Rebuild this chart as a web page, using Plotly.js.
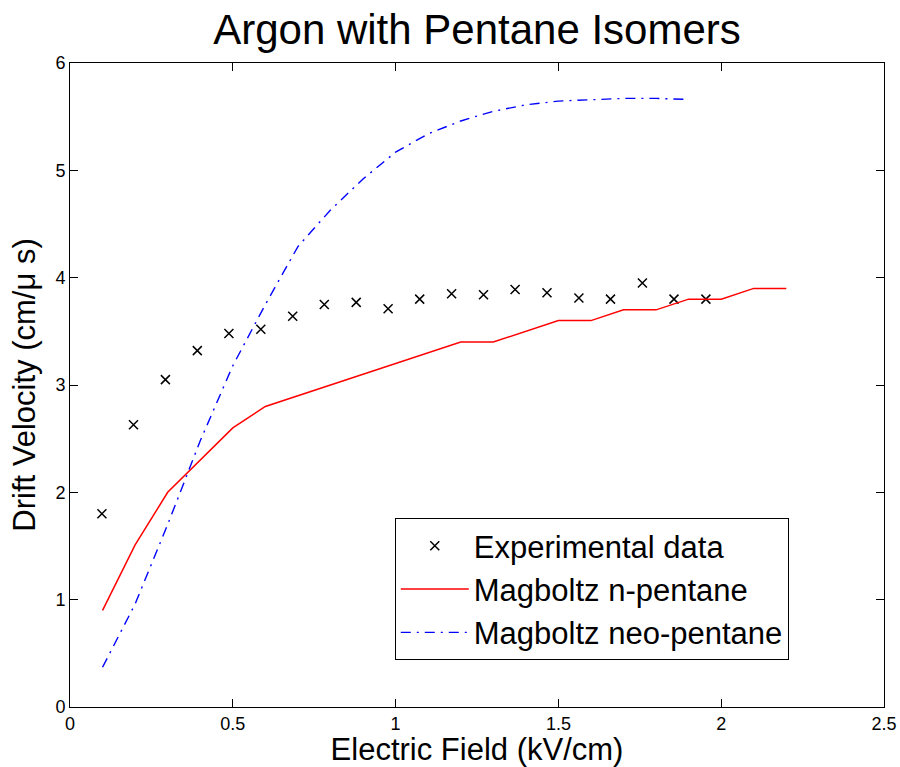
<!DOCTYPE html>
<html>
<head>
<meta charset="utf-8">
<script src="https://cdn.plot.ly/plotly-3.0.1.min.js"></script>
<style>html,body{margin:0;padding:0;background:#fff;}#chart{width:900px;height:767px;}</style>
</head>
<body>
<div id="chart"></div>
<script>
// Experimental data
var expX = [0.098, 0.195, 0.293, 0.391, 0.488, 0.586, 0.684, 0.781, 0.879, 0.977,
            1.074, 1.172, 1.270, 1.367, 1.465, 1.563, 1.660, 1.758, 1.855, 1.953];
var expY = [1.80, 2.63, 3.05, 3.32, 3.48, 3.52, 3.64, 3.75, 3.77, 3.71,
            3.80, 3.85, 3.84, 3.89, 3.86, 3.81, 3.80, 3.95, 3.80, 3.80];
// Magboltz n-pentane
var nX = [0.1, 0.2, 0.3, 0.4, 0.5, 0.6, 0.7, 0.8, 0.9, 1.0, 1.1,
          1.2, 1.3, 1.4, 1.5, 1.6, 1.7, 1.8, 1.9, 2.0, 2.1, 2.2];
var nY = [0.90, 1.51, 2.00, 2.30, 2.60, 2.80, 2.90, 3.00, 3.10, 3.20, 3.30,
          3.40, 3.40, 3.50, 3.60, 3.60, 3.70, 3.70, 3.80, 3.80, 3.90, 3.90];
// Magboltz neo-pentane
var neoX = [0.1, 0.2, 0.3, 0.4, 0.5, 0.6, 0.7, 0.8, 0.9, 1.0,
            1.1, 1.2, 1.3, 1.4, 1.5, 1.6, 1.7, 1.8, 1.9];
var neoY = [0.37, 0.96, 1.70, 2.48, 3.18, 3.75, 4.29, 4.63, 4.92, 5.17,
            5.34, 5.46, 5.55, 5.61, 5.645, 5.66, 5.67, 5.67, 5.66];

var xTicks = [0, 0.5, 1, 1.5, 2, 2.5];
var xTickText = ['0', '0.5', '1', '1.5', '2', '2.5'];
var yTicks = [0, 1, 2, 3, 4, 5, 6];
var yTickText = ['0', '1', '2', '3', '4', '5', '6'];

var FONT = 'Liberation Sans, Arial, Helvetica, sans-serif';

var traces = [
  {x: expX, y: expY, type: 'scatter', mode: 'markers', name: 'Experimental data',
   marker: {symbol: 'x-thin', size: 9, color: '#000', line: {color: '#000', width: 1.5}}},
  {x: nX, y: nY, type: 'scatter', mode: 'lines', name: 'Magboltz n-pentane',
   line: {color: '#ff0000', width: 1.5}},
  {x: neoX, y: neoY, type: 'scatter', mode: 'lines', name: 'Magboltz neo-pentane',
   line: {color: '#0000ff', width: 1.4, dash: '10px,6px,2px,6px'}}
];

var layout = {
  width: 900, height: 767,
  paper_bgcolor: '#fff', plot_bgcolor: '#fff',
  font: {family: FONT, color: '#000'},
  margin: {l: 70, r: 16, t: 63, b: 60},
  showlegend: true,
  title: {text: 'Argon with Pentane Isomers', font: {family: FONT, size: 42, color: '#000'},
          x: 0.5, xref: 'paper', xanchor: 'center', y: 0.962, yref: 'container', yanchor: 'middle'},
  xaxis: {
    range: [0, 2.5], tickmode: 'array', tickvals: xTicks, ticktext: xTickText,
    ticks: 'inside', ticklen: 8, tickwidth: 1, tickcolor: '#000',
    showline: true, linecolor: '#000', linewidth: 1, mirror: 'ticks',
    showgrid: false, zeroline: false,
    tickfont: {family: FONT, size: 18, color: '#000'},
    title: {text: 'Electric Field (kV/cm)', font: {family: FONT, size: 31, color: '#000'}, standoff: 9}
  },
  yaxis: {
    range: [0, 6], tickmode: 'array', tickvals: yTicks, ticktext: yTickText,
    ticks: 'inside', ticklen: 8, tickwidth: 1, tickcolor: '#000',
    showline: true, linecolor: '#000', linewidth: 1, mirror: 'ticks',
    showgrid: false, zeroline: false,
    tickfont: {family: FONT, size: 18, color: '#000'},
    title: {text: 'Drift Velocity (cm/μ s)', font: {family: FONT, size: 31, color: '#000'}, standoff: 10}
  },
  legend: {
    x: 0.399, y: 0.183, xanchor: 'left', yanchor: 'middle',
    bgcolor: '#fff', bordercolor: '#000', borderwidth: 1,
    font: {family: FONT, size: 31, color: '#000'},
    tracegroupgap: 0, itemwidth: 68
  }
};

Plotly.newPlot('chart', traces, layout, {displayModeBar: false, staticPlot: true});
</script>
</body>
</html>
